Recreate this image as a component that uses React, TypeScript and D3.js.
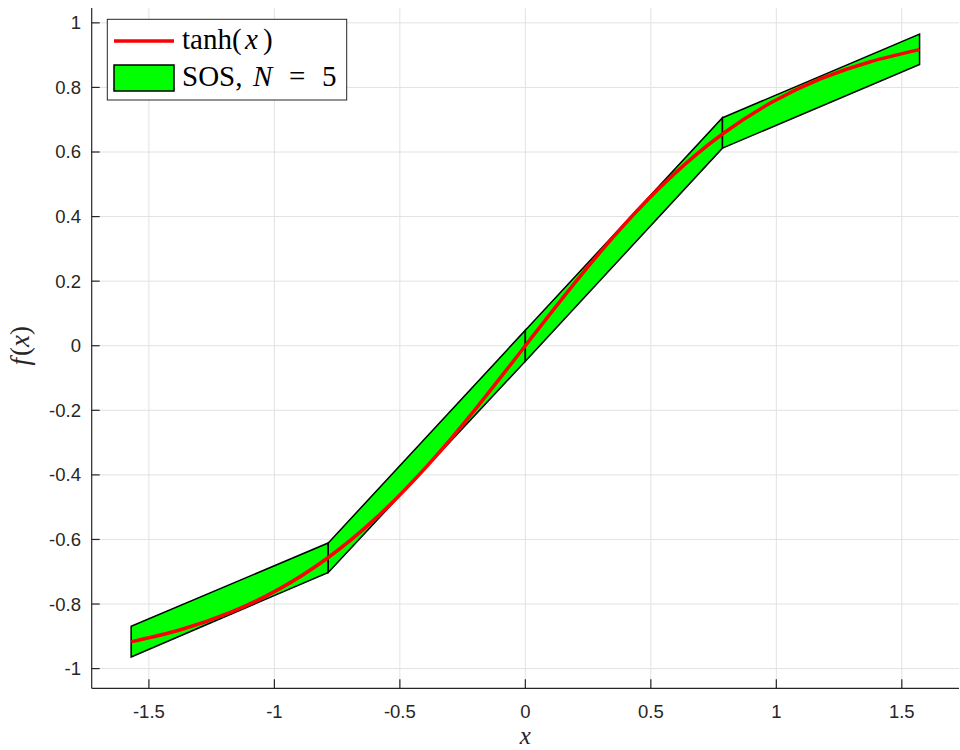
import React, { useEffect, useRef } from 'react';
import * as d3 from 'd3';

// breakpoints of the SOS pieces and the upper/lower bound at each one
const breakX = [-1.5708, -0.7854, 0, 0.7854, 1.5708];
const sosUpper = [-0.869, -0.611, 0.048, 0.706, 0.965];
const sosLower = [-0.964, -0.702, -0.048, 0.612, 0.871];

// tanh(x)
const tanhX = [-1.5708, -1.3744, -1.1781, -0.9817, -0.7854, -0.589, -0.3927, -0.1963, 0,
  0.1963, 0.3927, 0.589, 0.7854, 0.9817, 1.1781, 1.3744, 1.5708];
const tanhY = [-0.9172, -0.8797, -0.8269, -0.7538, -0.6558, -0.5292, -0.3737, -0.1939, 0,
  0.1939, 0.3737, 0.5292, 0.6558, 0.7538, 0.8269, 0.8797, 0.9172];

const xTicks = [-1.5, -1, -0.5, 0, 0.5, 1, 1.5];
const yTicks = [-1, -0.8, -0.6, -0.4, -0.2, 0, 0.2, 0.4, 0.6, 0.8, 1];

const App = () => {
  const ref = useRef<SVGSVGElement>(null);

  useEffect(() => {
    const svg = d3.select(ref.current);
    svg.selectAll('*').remove();

    const left = 91.7, right = 959, top = 8, bottom = 688.3;
    const x = d3.scaleLinear().domain([-1.7279, 1.7279]).range([left, right]);
    const y = d3.scaleLinear().domain([-1.061, 1.046]).range([bottom, top]);
    const axisColor = '#262626';
    const tickFont = '"Liberation Sans", Arial, sans-serif';
    const texFont = '"Liberation Serif", "Times New Roman", serif';

    // grid
    const grid = svg.append('g').attr('stroke', '#e2e2e2').attr('stroke-width', 1);
    grid.selectAll('line.gx').data(xTicks).join('line')
      .attr('x1', d => x(d)).attr('x2', d => x(d)).attr('y1', top).attr('y2', bottom);
    grid.selectAll('line.gy').data(yTicks).join('line')
      .attr('x1', left).attr('x2', right).attr('y1', d => y(d)).attr('y2', d => y(d));

    // SOS pieces, one quad per interval
    const pieces = d3.range(breakX.length - 1).map(i => [
      [breakX[i], sosLower[i]], [breakX[i + 1], sosLower[i + 1]],
      [breakX[i + 1], sosUpper[i + 1]], [breakX[i], sosUpper[i]]
    ]);
    svg.append('g').selectAll('path').data(pieces).join('path')
      .attr('d', p => 'M' + p.map(q => `${x(q[0])},${y(q[1])}`).join('L') + 'Z')
      .attr('fill', '#00ff00')
      .attr('stroke', '#000')
      .attr('stroke-width', 1.5)
      .attr('stroke-linejoin', 'miter');

    // tanh curve
    const line = d3.line<number>()
      .x((_, i) => x(tanhX[i]))
      .y(d => y(d))
      .curve(d3.curveNatural);
    svg.append('path')
      .attr('d', line(tanhY))
      .attr('fill', 'none')
      .attr('stroke', '#ff0000')
      .attr('stroke-width', 3.5);

    // axes
    const ax = svg.append('g').attr('stroke', axisColor).attr('stroke-width', 1.2);
    ax.append('line').attr('x1', left).attr('x2', left).attr('y1', top).attr('y2', bottom);
    ax.append('line').attr('x1', left).attr('x2', right).attr('y1', bottom).attr('y2', bottom);
    ax.selectAll('line.tx').data(xTicks).join('line')
      .attr('x1', d => x(d)).attr('x2', d => x(d)).attr('y1', bottom).attr('y2', bottom - 9);
    ax.selectAll('line.ty').data(yTicks).join('line')
      .attr('x1', left).attr('x2', left + 8).attr('y1', d => y(d)).attr('y2', d => y(d));

    svg.append('g').selectAll('text').data(xTicks).join('text')
      .attr('x', d => x(d)).attr('y', 717.5)
      .attr('text-anchor', 'middle')
      .attr('font-family', tickFont).attr('font-size', 18.5).attr('fill', axisColor)
      .text(d => String(d));
    svg.append('g').selectAll('text').data(yTicks).join('text')
      .attr('x', 81).attr('y', d => y(d)).attr('dy', '0.35em')
      .attr('text-anchor', 'end')
      .attr('font-family', tickFont).attr('font-size', 18.5).attr('fill', axisColor)
      .text(d => String(d));

    // axis labels
    svg.append('text')
      .attr('x', x(0)).attr('y', 744)
      .attr('text-anchor', 'middle')
      .attr('font-family', texFont).attr('font-style', 'italic').attr('font-size', 25)
      .attr('fill', axisColor)
      .text('x');
    const yl = svg.append('text')
      .attr('transform', `translate(29,${y(0)}) rotate(-90)`)
      .attr('text-anchor', 'middle')
      .attr('font-family', texFont).attr('font-size', 27).attr('fill', axisColor);
    yl.append('tspan').attr('font-style', 'italic').text('f');
    yl.append('tspan').attr('dx', 2).text('(');
    yl.append('tspan').attr('font-style', 'italic').text('x');
    yl.append('tspan').text(')');

    // legend
    const lg = svg.append('g');
    lg.append('rect')
      .attr('x', 107.3).attr('y', 19.3).attr('width', 239.4).attr('height', 80.7)
      .attr('fill', '#fff').attr('stroke', axisColor).attr('stroke-width', 1);
    lg.append('line')
      .attr('x1', 114).attr('x2', 174).attr('y1', 41).attr('y2', 41)
      .attr('stroke', '#ff0000').attr('stroke-width', 3.5);
    lg.append('rect')
      .attr('x', 114).attr('y', 65).attr('width', 60).attr('height', 26)
      .attr('fill', '#00ff00').attr('stroke', '#000').attr('stroke-width', 1.5);

    const t1 = lg.append('text').attr('y', 49)
      .attr('font-family', texFont).attr('font-size', 29).attr('fill', '#000');
    t1.append('tspan').attr('x', 182).text('tanh(');
    t1.append('tspan').attr('x', 245).attr('font-style', 'italic').text('x');
    t1.append('tspan').attr('x', 263).text(')');

    const t2 = lg.append('text').attr('y', 86)
      .attr('font-family', texFont).attr('font-size', 29).attr('fill', '#000');
    t2.append('tspan').attr('x', 182).text('SOS,');
    t2.append('tspan').attr('x', 253).attr('font-style', 'italic').text('N');
    t2.append('tspan').attr('x', 289).text('=');
    t2.append('tspan').attr('x', 322).text('5');
  }, []);

  return (
    <svg ref={ref} width={960} height={750}
      style={{ position: 'absolute', left: 0, top: 0, background: '#fff' }} />
  );
};

export default App;
